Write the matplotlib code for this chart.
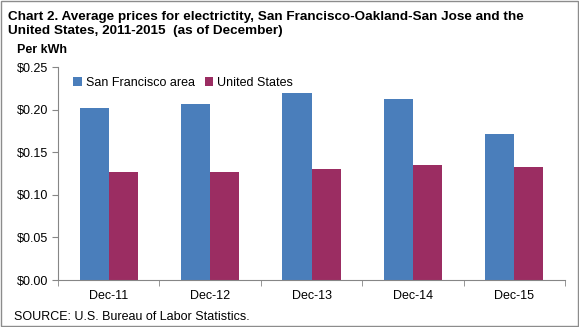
import matplotlib.pyplot as plt
import numpy as np
from matplotlib.patches import Rectangle

plt.rcParams['font.family'] = ['Liberation Sans', 'DejaVu Sans']

CATEGORIES = ['Dec-11', 'Dec-12', 'Dec-13', 'Dec-14', 'Dec-15']
SAN_FRANCISCO = [0.202, 0.207, 0.219, 0.213, 0.171]
UNITED_STATES = [0.127, 0.127, 0.130, 0.135, 0.133]
Y_TICKS = [0.00, 0.05, 0.10, 0.15, 0.20, 0.25]

BLUE = '#4A7EBB'
MAROON = '#9B2D62'
AXIS_GRAY = '#868686'

fig = plt.figure(figsize=(5.79, 3.27), dpi=100)
ax = fig.add_axes([0.1002, 0.1437, 0.8756, 0.6513])

x = np.arange(len(CATEGORIES))
width = 0.287
ax.bar(x - width / 2, SAN_FRANCISCO, width, color=BLUE, label='San Francisco area')
ax.bar(x + width / 2, UNITED_STATES, width, color=MAROON, label='United States')

ax.set_xlim(-0.5, len(CATEGORIES) - 0.5)
ax.set_ylim(0, 0.25)
ax.set_yticks(Y_TICKS)
ax.set_yticklabels(['${:.2f}'.format(v) for v in Y_TICKS], fontsize=9)

# category labels in the middle, tick marks on the group boundaries
ax.set_xticks(x)
ax.set_xticklabels(CATEGORIES, fontsize=9)
ax.tick_params(axis='x', length=0, pad=7)
ax.set_xticks(np.arange(-0.5, len(CATEGORIES)), minor=True)
ax.tick_params(axis='x', which='minor', length=4, color=AXIS_GRAY, direction='out')
ax.tick_params(axis='y', length=4, color=AXIS_GRAY, direction='out', pad=3)

for side in ['top', 'right']:
    ax.spines[side].set_visible(False)
for side in ['left', 'bottom']:
    ax.spines[side].set_color(AXIS_GRAY)

ax.legend(loc='center left', bbox_to_anchor=(0.02, 0.925), ncol=2, frameon=False,
          fontsize=9, handlelength=0.7, handleheight=0.7, handletextpad=0.3,
          columnspacing=0.8, borderaxespad=0)

fig.text(8 / 579, 1 - 20 / 327,
         'Chart 2. Average prices for electrictity, San Francisco-Oakland-San Jose and the',
         fontsize=9.7, fontweight='bold', va='baseline')
fig.text(8 / 579, 1 - 34 / 327, 'United States, 2011-2015  (as of December)',
         fontsize=9.7, fontweight='bold', va='baseline')
fig.text(17 / 579, 1 - 53 / 327, 'Per kWh', fontsize=9, fontweight='bold', va='baseline')
fig.text(14 / 579, 1 - 320 / 327, 'SOURCE: U.S. Bureau of Labor Statistics.',
         fontsize=9, va='baseline')

fig.patches.append(Rectangle((0.001, 0.002), 0.997, 0.995, transform=fig.transFigure,
                             fill=False, edgecolor='#8C8C8C', linewidth=1))

fig.savefig('out.png', dpi=100)
